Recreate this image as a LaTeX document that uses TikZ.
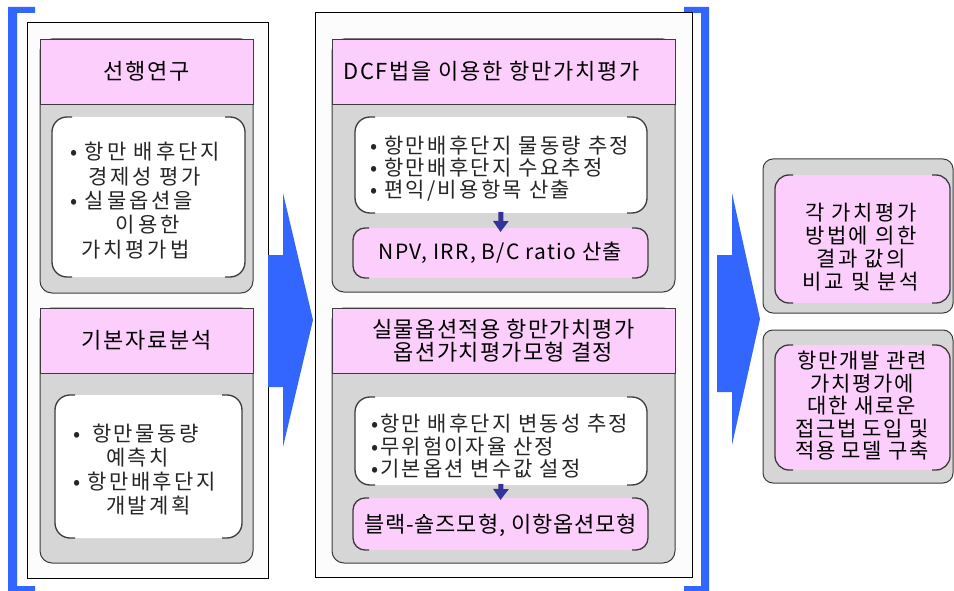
\documentclass[tikz,border=0pt]{standalone}
\usepackage{fontspec}
\setmainfont{Noto Sans CJK KR}
\usetikzlibrary{arrows.meta}
\definecolor{pinkf}{RGB}{252,206,252}
\definecolor{grayf}{RGB}{214,214,214}
\definecolor{edgec}{RGB}{60,60,60}
\definecolor{bigblue}{RGB}{51,102,255}
\definecolor{navyc}{RGB}{51,51,153}
\definecolor{panelf}{RGB}{252,252,252}
\newcommand\fsz[3]{\fontsize{#1}{#2}\selectfont\addfontfeature{LetterSpace=#3}}
\tikzset{
  panel/.style={draw=black, line width=0.8pt, fill=panelf, inner sep=0pt, outer sep=0pt},
  graybody/.style={draw=edgec, line width=1pt, fill=grayf, rounded corners=12pt, inner sep=0pt, outer sep=0pt},
  header/.style={draw=edgec, line width=0.8pt, fill=pinkf, inner sep=0pt, outer sep=0pt, align=center, font=\fsz{22}{22}{8}},
  whitebox/.style={fill=white, rounded corners=15pt, inner sep=0pt, outer sep=0pt},
  pinkbox/.style={fill=pinkf, rounded corners=12pt, inner sep=0pt, outer sep=0pt},
  brk/.style={draw=edgec, line width=1.3pt},
  bodytext/.style={inner sep=0pt, outer sep=0pt, align=left, text=black!85, font=\fsz{21}{24}{12}},
  resulttext/.style={inner sep=0pt, outer sep=0pt, align=center, font=\fsz{21}{22}{6}},
  smallarrow/.style={draw=navyc, line width=5pt, -{Triangle[width=15pt,length=11pt]}},
}
\newcommand\bpair[3]{%
  \draw[brk, rounded corners=#3] ([xshift=#2]#1.north west) -- (#1.north west) -- (#1.south west) -- ([xshift=#2]#1.south west);
  \draw[brk, rounded corners=#3] ([xshift=-#2]#1.north east) -- (#1.north east) -- (#1.south east) -- ([xshift=-#2]#1.south east);}
\begin{document}
\begin{tikzpicture}[x=1pt,y=-1pt]
\useasboundingbox (0,0) rectangle (954,591);
\fill[white] (0,0) rectangle (954,591);

% blue brackets
\fill[bigblue] (8,7) -- (35,7) -- (35,13) -- (17,13) -- (17,586) -- (35,586) -- (35,591) -- (8,591) -- cycle;
\fill[bigblue] (684,7) -- (709,7) -- (709,591) -- (684,591) -- (684,586) -- (701,586) -- (701,13) -- (684,13) -- cycle;

% outer panels
\node[panel, minimum width=241pt, minimum height=556pt] (lp) at (147.5,300) {};
\node[panel, minimum width=377pt, minimum height=565pt] (mp) at (503.5,294.5) {};

% big arrows
\fill[bigblue] (268,255) -- (283,255) -- (283,193) -- (313,320) -- (283,447) -- (283,387) -- (268,387) -- cycle;
\fill[bigblue] (717,255) -- (732,255) -- (732,193) -- (760,319) -- (732,445) -- (732,392) -- (717,392) -- cycle;

% left group 1
\node[graybody, minimum width=213pt, minimum height=254pt] (g1) at (146.5,166) {};
\node[header, minimum width=213pt, minimum height=65pt] (h1) at (146.5,71.5) {선행연구};
\node[whitebox, minimum width=193pt, minimum height=160pt] (w1) at (148.5,197) {};
\bpair{w1}{20pt}{15pt}
\node[bodytext, anchor=west, font=\fsz{21}{24.3}{14}] (t1) at (70,200.5) {• 항만 배후단지\\\hspace*{18pt}경제성 평가\\• 실물옵션을\\\hspace*{46pt}이용한\\\hspace*{11pt}가치평가법};

% left group 2
\node[graybody, minimum width=213pt, minimum height=255pt] (g2) at (146.5,435.5) {};
\node[header, minimum width=213pt, minimum height=65pt] (h2) at (146.5,340.5) {기본자료분석};
\node[whitebox, minimum width=187pt, minimum height=143pt] (w2) at (148.5,466.5) {};
\bpair{w2}{20pt}{15pt}
\node[bodytext, anchor=west] (t2) at (73,469.5) {•\hspace*{12pt}항만물동량\\\hspace*{33pt}예측치\\• 항만배후단지\\\hspace*{33pt}개발계획};

% middle group 1
\node[graybody, minimum width=343pt, minimum height=253pt] (g3) at (503.5,165.5) {};
\node[header, minimum width=343pt, minimum height=65pt] (h3) at (503.5,71.5) {DCF법을 이용한 항만가치평가\hspace*{24pt}};
\node[whitebox, minimum width=292pt, minimum height=96pt] (w3) at (501,165) {};
\bpair{w3}{20pt}{15pt}
\node[bodytext, anchor=west, font=\fsz{21}{22}{11}] (t3) at (370,169) {• 항만배후단지 물동량 추정\\• 항만배후단지 수요추정\\• 편익/비용항목 산출};
\node[pinkbox, minimum width=295pt, minimum height=50pt] (p3) at (500.5,253) {};
\bpair{p3}{16pt}{12pt}
\node[resulttext] (r3) at (500.5,253) {NPV, IRR, B/C ratio 산출};
\draw[smallarrow] ([yshift=1pt]w3.south) -- ([yshift=-4pt]p3.north);

% middle group 2
\node[graybody, minimum width=343pt, minimum height=255pt] (g4) at (503.5,435.5) {};
\node[header, minimum width=343pt, minimum height=65pt, font=\fsz{22}{23}{6}] (h4) at (503.5,340.5) {실물옵션적용 항만가치평가\\옵션가치평가모형 결정};
\node[whitebox, minimum width=292pt, minimum height=88pt] (w4) at (501,441) {};
\bpair{w4}{20pt}{15pt}
\node[bodytext, anchor=west, font=\fsz{21}{22.5}{10}] (t4) at (371,446.5) {•항만 배후단지 변동성 추정\\•무위험이자율 산정\\•기본옵션 변수값 설정};
\node[pinkbox, minimum width=295pt, minimum height=52pt] (p4) at (500.5,524) {};
\bpair{p4}{16pt}{12pt}
\node[resulttext, font=\fsz{22}{22}{4}] (r4) at (500.5,525) {블랙-숄즈모형, 이항옵션모형};
\draw[smallarrow] ([yshift=1pt]w4.south) -- ([yshift=-2pt]p4.north);

% right boxes
\node[graybody, rounded corners=10pt, minimum width=190pt, minimum height=154pt] (g5) at (858,236) {};
\node[pinkbox, minimum width=175pt, minimum height=128pt] (p5) at (862.5,239) {};
\bpair{p5}{18pt}{14pt}
\node[resulttext, font=\fsz{21}{23}{12}] (r5) at (861,247) {각 가치평가\\방법에 의한\\결과 값의\\비교 및 분석};

\node[graybody, rounded corners=10pt, minimum width=190pt, minimum height=153pt] (g6) at (858,406.5) {};
\node[pinkbox, minimum width=175pt, minimum height=125pt] (p6) at (862.5,407.5) {};
\bpair{p6}{18pt}{14pt}
\node[resulttext, font=\fsz{21}{22.5}{8}] (r6) at (862,406) {항만개발 관련\\가치평가에\\대한 새로운\\접근법 도입 및\\적용 모델 구축};
\end{tikzpicture}
\end{document}
